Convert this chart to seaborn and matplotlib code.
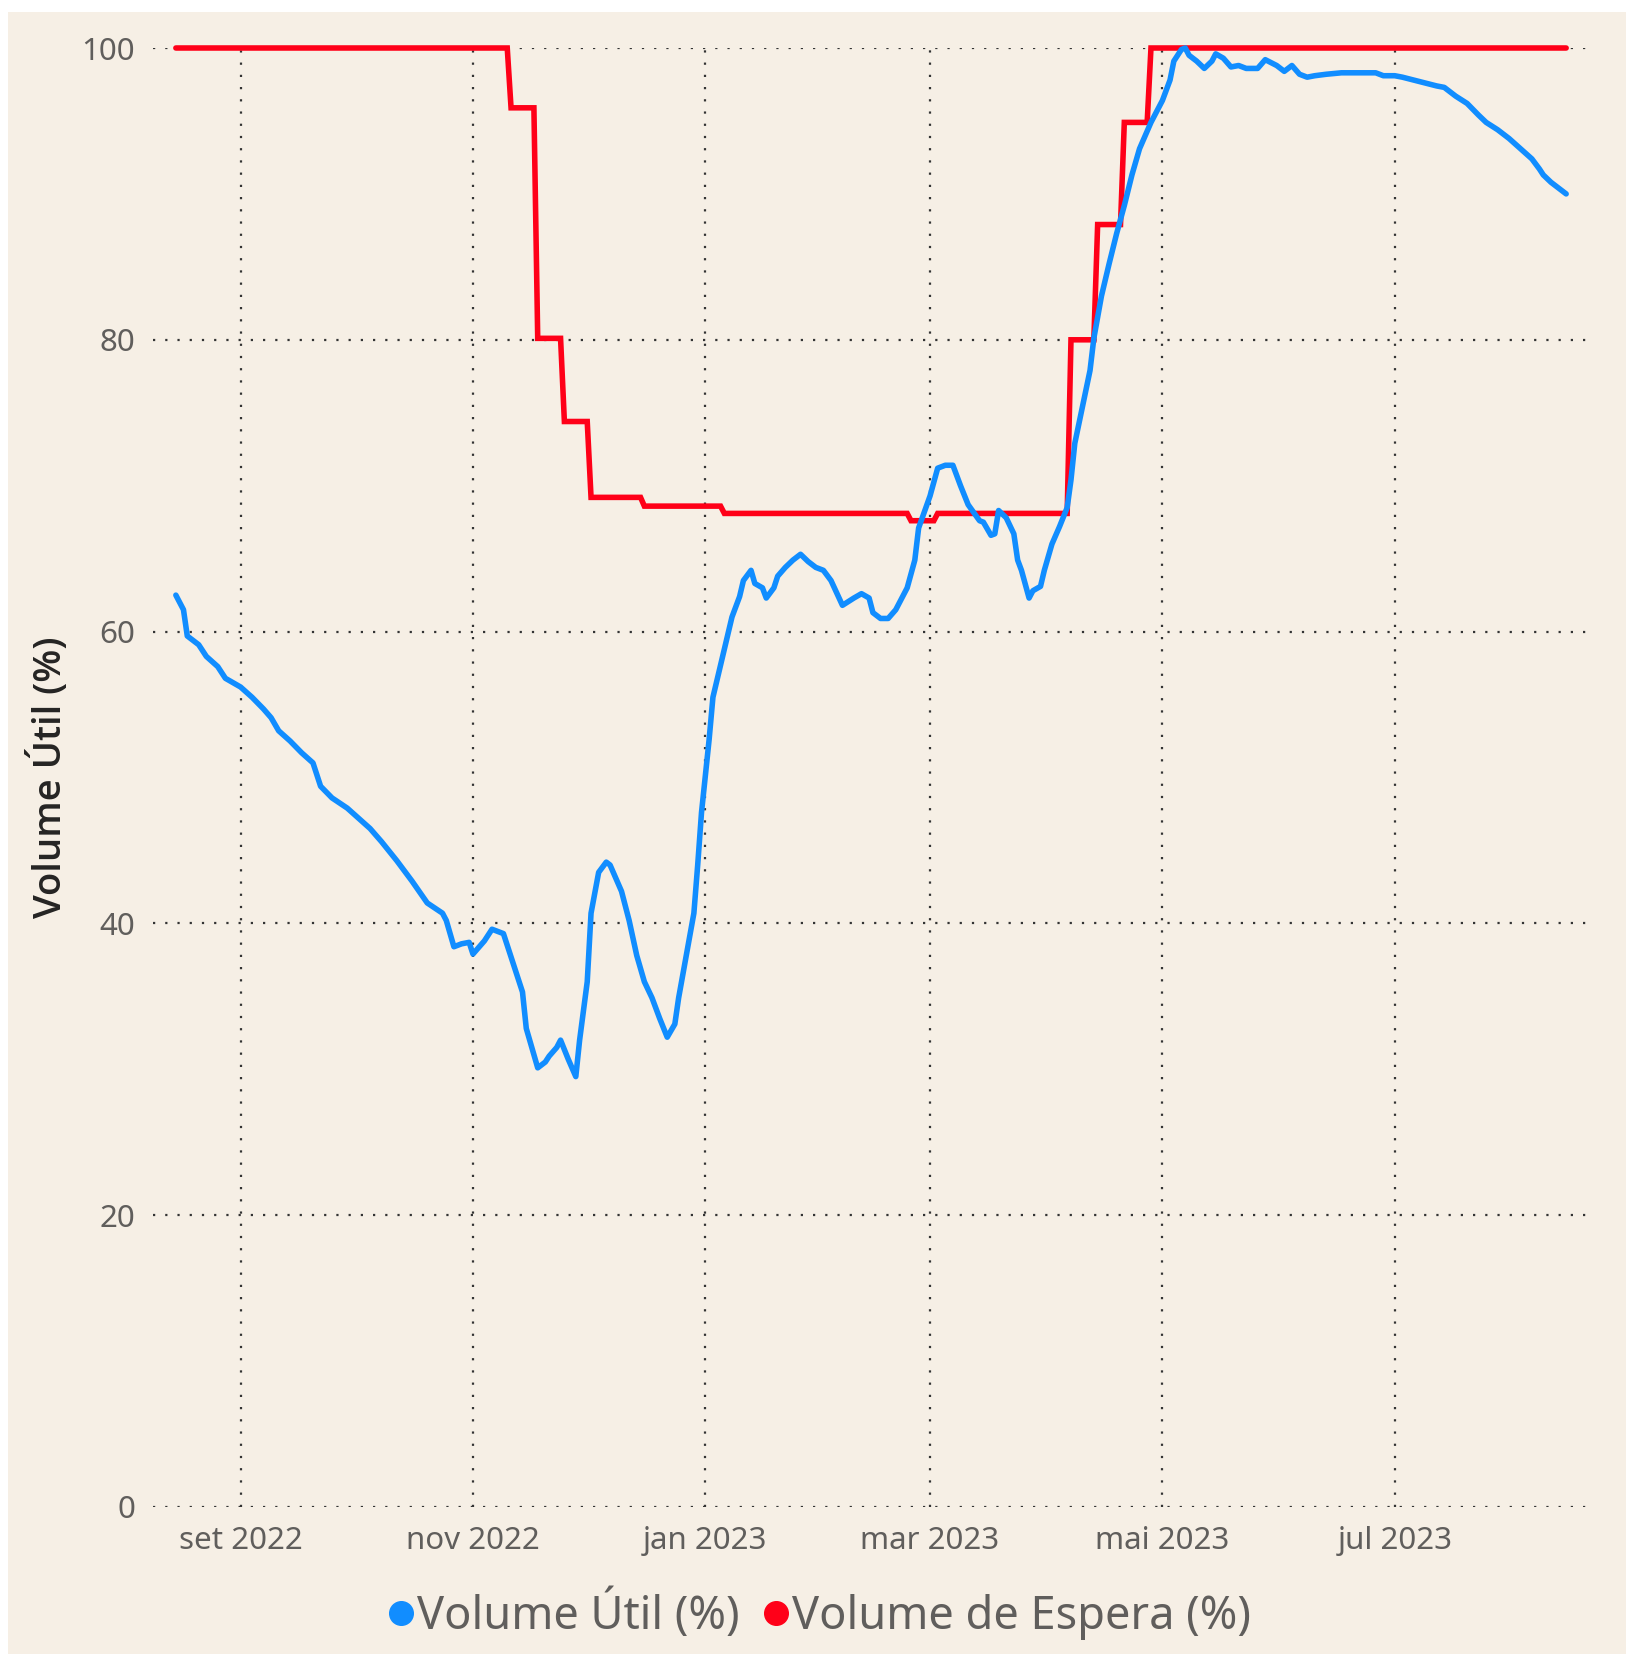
import matplotlib
matplotlib.use('Agg')
import matplotlib.pyplot as plt
from matplotlib.lines import Line2D
from matplotlib.patches import Rectangle
import seaborn as sns
import pandas as pd

# Volume Útil (%)
util_dates = [
    '2022-08-15', '2022-08-17', '2022-08-18', '2022-08-21', '2022-08-23', '2022-08-26', '2022-08-28',
    '2022-09-01', '2022-09-04', '2022-09-07', '2022-09-09', '2022-09-11', '2022-09-14', '2022-09-17',
    '2022-09-20', '2022-09-22', '2022-09-25', '2022-09-29', '2022-10-02', '2022-10-05', '2022-10-08',
    '2022-10-12', '2022-10-16', '2022-10-20', '2022-10-24', '2022-10-25', '2022-10-27', '2022-10-29',
    '2022-10-31', '2022-11-01', '2022-11-04', '2022-11-06', '2022-11-09', '2022-11-12', '2022-11-14',
    '2022-11-15', '2022-11-18', '2022-11-20', '2022-11-21', '2022-11-23', '2022-11-24', '2022-11-26',
    '2022-11-28', '2022-11-29', '2022-12-01', '2022-12-02', '2022-12-04', '2022-12-06', '2022-12-07',
    '2022-12-10', '2022-12-12', '2022-12-14', '2022-12-16', '2022-12-18', '2022-12-20', '2022-12-22',
    '2022-12-24', '2022-12-25', '2022-12-27', '2022-12-29', '2022-12-30', '2022-12-31', '2023-01-02',
    '2023-01-03', '2023-01-06', '2023-01-08', '2023-01-10', '2023-01-11', '2023-01-13', '2023-01-14',
    '2023-01-16', '2023-01-17', '2023-01-19', '2023-01-20', '2023-01-22', '2023-01-24', '2023-01-26',
    '2023-01-28', '2023-01-30', '2023-02-01', '2023-02-03', '2023-02-06', '2023-02-09', '2023-02-11',
    '2023-02-13', '2023-02-14', '2023-02-16', '2023-02-18', '2023-02-20', '2023-02-23', '2023-02-25',
    '2023-02-26', '2023-03-01', '2023-03-03', '2023-03-05', '2023-03-07', '2023-03-09', '2023-03-11',
    '2023-03-14', '2023-03-15', '2023-03-17', '2023-03-18', '2023-03-19', '2023-03-21', '2023-03-23',
    '2023-03-24', '2023-03-25', '2023-03-27', '2023-03-28', '2023-03-30', '2023-03-31', '2023-04-02',
    '2023-04-04', '2023-04-06', '2023-04-07', '2023-04-08', '2023-04-10', '2023-04-12', '2023-04-13',
    '2023-04-15', '2023-04-17', '2023-04-19', '2023-04-21', '2023-04-23', '2023-04-25', '2023-04-28',
    '2023-05-01', '2023-05-03', '2023-05-04', '2023-05-06', '2023-05-07', '2023-05-08', '2023-05-10',
    '2023-05-12', '2023-05-14', '2023-05-15', '2023-05-17', '2023-05-19', '2023-05-21', '2023-05-23',
    '2023-05-26', '2023-05-28', '2023-05-31', '2023-06-02', '2023-06-04', '2023-06-06', '2023-06-08',
    '2023-06-10', '2023-06-13', '2023-06-17', '2023-06-26', '2023-06-28', '2023-07-01', '2023-07-03',
    '2023-07-06', '2023-07-09', '2023-07-12', '2023-07-14', '2023-07-17', '2023-07-20', '2023-07-23',
    '2023-07-25', '2023-07-28', '2023-07-31', '2023-08-03', '2023-08-06', '2023-08-08', '2023-08-09',
    '2023-08-11', '2023-08-13', '2023-08-15',
]
util_values = [
    62.5, 61.5, 59.7, 59.1, 58.3, 57.6, 56.8,
    56.2, 55.5, 54.7, 54.1, 53.2, 52.5, 51.7,
    51.0, 49.4, 48.6, 47.9, 47.2, 46.5, 45.6,
    44.3, 42.9, 41.4, 40.7, 40.2, 38.4, 38.6,
    38.7, 37.9, 38.8, 39.6, 39.3, 36.9, 35.3,
    32.8, 30.1, 30.5, 30.9, 31.5, 32.0, 30.7,
    29.5, 32.0, 36.0, 40.7, 43.5, 44.2, 44.0,
    42.2, 40.2, 37.8, 36.0, 34.9, 33.5, 32.2,
    33.1, 34.9, 37.8, 40.7, 44.0, 47.6, 52.6,
    55.5, 58.8, 61.0, 62.4, 63.5, 64.2, 63.3,
    63.0, 62.3, 63.0, 63.8, 64.4, 64.9, 65.3,
    64.8, 64.4, 64.2, 63.5, 61.8, 62.3, 62.6,
    62.3, 61.3, 60.9, 60.9, 61.5, 63.0, 64.9,
    67.1, 69.3, 71.2, 71.4, 71.4, 70.0, 68.7,
    67.6, 67.5, 66.6, 66.7, 68.3, 67.8, 66.7,
    64.9, 64.2, 62.3, 62.8, 63.1, 64.2, 66.0,
    67.2, 68.5, 70.4, 72.9, 75.4, 77.9, 80.1,
    83.0, 85.2, 87.3, 89.2, 91.3, 93.1, 94.9,
    96.4, 97.8, 99.1, 99.9, 100.0, 99.5, 99.1,
    98.6, 99.1, 99.6, 99.3, 98.7, 98.8, 98.6,
    98.6, 99.2, 98.8, 98.4, 98.8, 98.2, 98.0,
    98.1, 98.2, 98.3, 98.3, 98.1, 98.1, 98.0,
    97.8, 97.6, 97.4, 97.3, 96.7, 96.2, 95.4,
    94.9, 94.4, 93.8, 93.1, 92.4, 91.7, 91.3,
    90.8, 90.4, 90.0,
]

# Volume de Espera (%) - step series, each change spans one day
espera_dates = [
    '2022-08-15', '2022-11-10', '2022-11-11', '2022-11-17', '2022-11-18', '2022-11-24', '2022-11-25',
    '2022-12-01', '2022-12-02', '2022-12-15', '2022-12-16', '2023-01-05', '2023-01-06', '2023-02-23',
    '2023-02-24', '2023-03-02', '2023-03-03', '2023-04-06', '2023-04-07', '2023-04-13', '2023-04-14',
    '2023-04-20', '2023-04-21', '2023-04-27', '2023-04-28', '2023-08-15',
]
espera_values = [
    100.0, 100.0, 95.9, 95.9, 80.1, 80.1, 74.4,
    74.4, 69.2, 69.2, 68.6, 68.6, 68.1, 68.1,
    67.6, 67.6, 68.1, 68.1, 80.0, 80.0, 87.9,
    87.9, 94.9, 94.9, 100.0, 100.0,
]

y_ticks = [0, 20, 40, 60, 80, 100]
x_ticks = ['2022-09-01', '2022-11-01', '2023-01-01', '2023-03-01', '2023-05-01', '2023-07-01']
x_tick_labels = ['set 2022', 'nov 2022', 'jan 2023', 'mar 2023', 'mai 2023', 'jul 2023']

util = pd.DataFrame({'data': pd.to_datetime(util_dates), 'valor': util_values})
espera = pd.DataFrame({'data': pd.to_datetime(espera_dates), 'valor': espera_values})

bg = '#F6EFE5'
blue = '#118DFF'
red = '#FF0018'

sns.set_style('white')
plt.rcParams['font.family'] = ['Noto Sans', 'DejaVu Sans']

fig = plt.figure(figsize=(16.26, 16.54), dpi=100, facecolor='white')
fig.patches.append(Rectangle((8 / 1626, 0), 1, 1 - 12 / 1654, transform=fig.transFigure,
                             facecolor=bg, edgecolor='none', zorder=-10))
ax = fig.add_axes([153 / 1626, 1 - 1507 / 1654, 1433 / 1626, 1459 / 1654])
ax.set_facecolor(bg)

sns.lineplot(data=espera, x='data', y='valor', ax=ax, color=red, linewidth=4.0,
             solid_capstyle='round', solid_joinstyle='miter', zorder=3, clip_on=False)
sns.lineplot(data=util, x='data', y='valor', ax=ax, color=blue, linewidth=4.0,
             solid_capstyle='round', solid_joinstyle='round', zorder=4, clip_on=False)

ax.set_ylim(0, 100)
ax.set_xlim(pd.Timestamp('2022-08-09'), pd.Timestamp('2023-08-20 05:00'))
ax.set_yticks(y_ticks)
ax.set_xticks(pd.to_datetime(x_ticks))
ax.set_xticklabels(x_tick_labels)

for s in ax.spines.values():
    s.set_visible(False)
ax.grid(True, color='#333333', linestyle=(0, (1, 4.5)), linewidth=1.6)
ax.set_axisbelow(True)
ax.tick_params(axis='both', length=0, labelsize=22.5, labelcolor='#605E5C')
ax.tick_params(axis='x', pad=14)
ax.tick_params(axis='y', pad=13)

ax.set_xlabel('')
ax.set_ylabel('Volume Útil (%)', fontsize=27.5, color='#252423', fontweight='semibold',
              family=['Open Sans', 'DejaVu Sans'], labelpad=8)

handles = [
    Line2D([], [], marker='o', linestyle='none', markersize=17, markerfacecolor=blue, markeredgecolor=blue),
    Line2D([], [], marker='o', linestyle='none', markersize=17, markerfacecolor=red, markeredgecolor=red),
]
fig.legend(handles, ['Volume Útil (%)', 'Volume de Espera (%)'], loc='center',
           bbox_to_anchor=(0.501, 0.024), ncol=2, frameon=False, fontsize=32.5,
           labelcolor='#605E5C', handletextpad=-0.15, columnspacing=0.3, handlelength=1.0)

fig.savefig('out.png', dpi=100, facecolor='white')
